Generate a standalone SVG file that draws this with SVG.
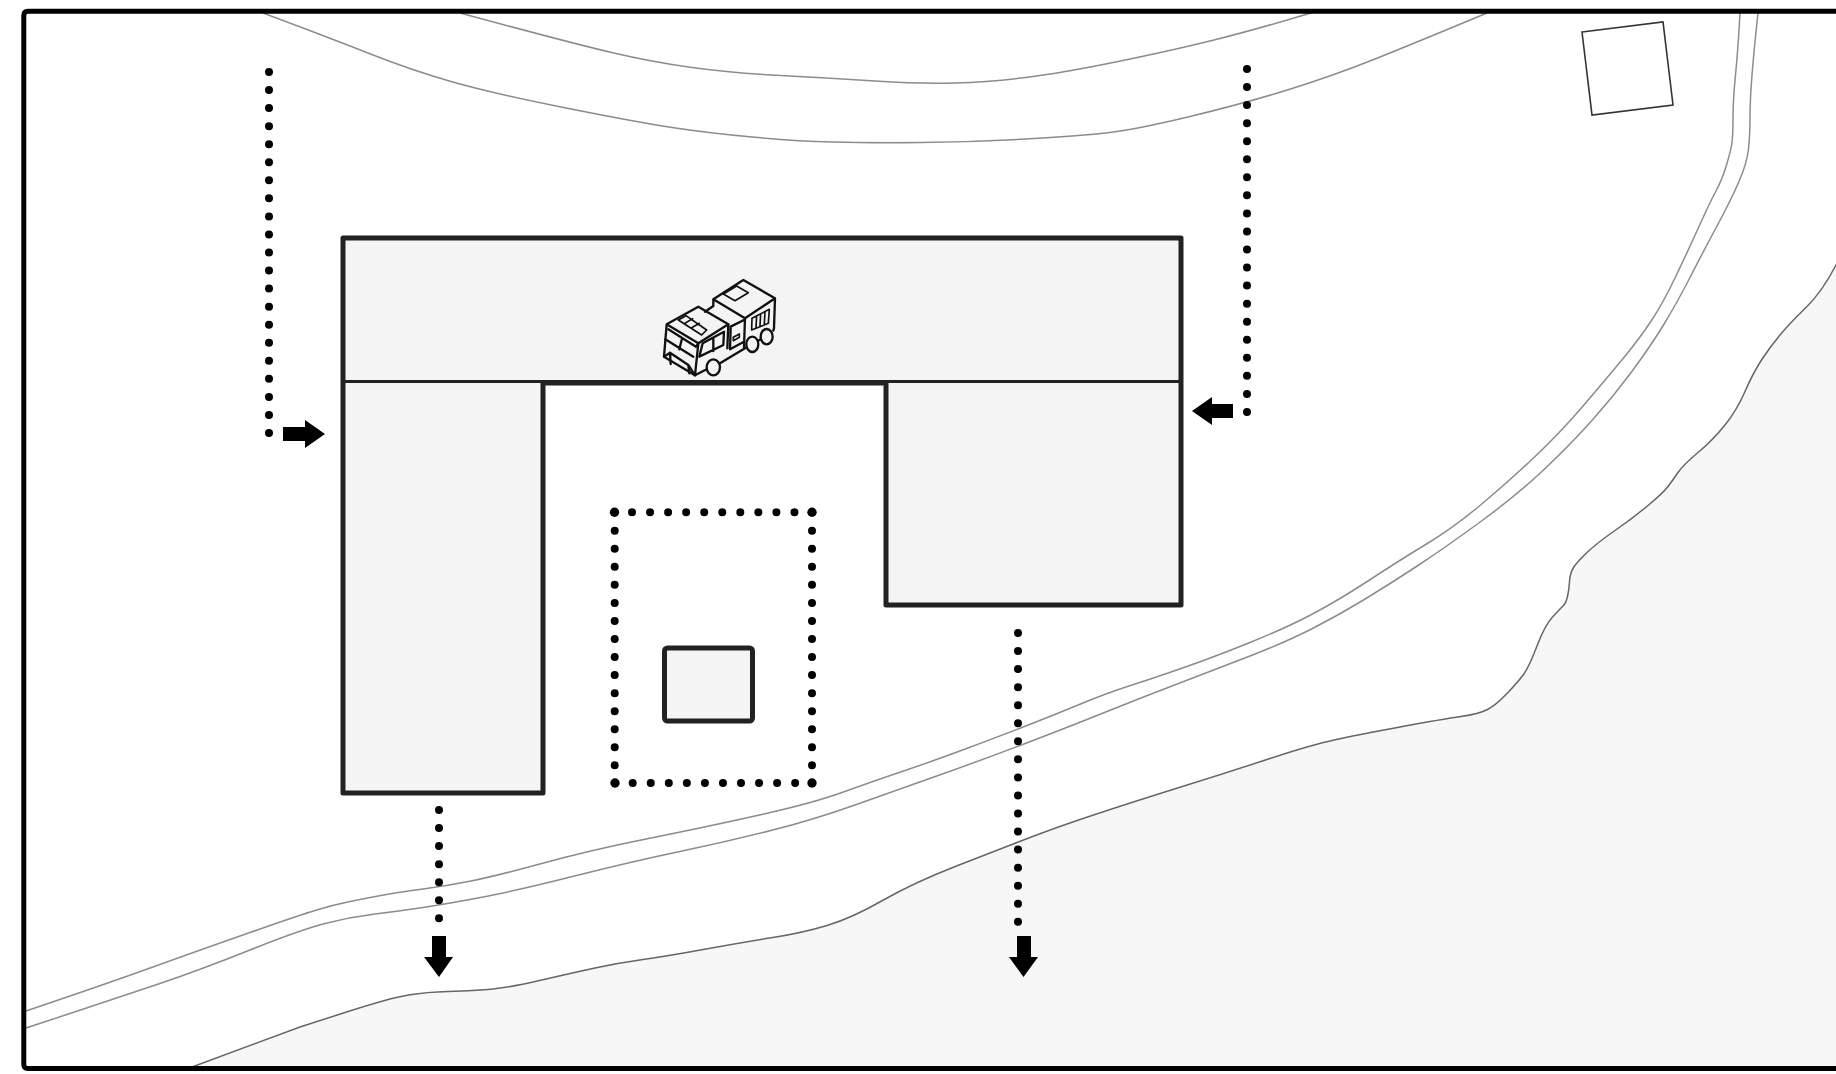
<svg xmlns="http://www.w3.org/2000/svg" width="1836" height="1074" viewBox="0 0 1836 1074">
<style>
.road{fill:none;stroke:#8c8c8c;stroke-width:1.5}
.ground{fill:#f7f7f7;stroke:#666;stroke-width:1.5}
.bld{fill:#f4f4f4;stroke:#222;stroke-width:5;stroke-linejoin:round}
.dots{fill:none;stroke:#000;stroke-width:8;stroke-linecap:round;stroke-dasharray:0 18.05}
.corner{fill:#000}
.arr{fill:#000}
.v{fill:none;stroke:#111;stroke-width:7;stroke-linejoin:round;stroke-linecap:round}
</style>
<rect width="1836" height="1074" fill="#fff"/>
<g id="terrain">
<path class="ground" d="M192 1067L300 1027Q345 1012.500 345 1012.500Q390 998 408.500 995Q427 992 448 991.500Q469 991 488 989.500Q507 988 539.500 980.500Q572 973 595 968Q618 963 643 959.500Q668 956 706 949Q744 942 773 937.500Q802 933 827 925.500Q852 918 882.500 900.500Q913 883 956.500 866Q1000 849 1030 837.500Q1060 826 1099.500 813Q1139 800 1184 786Q1229 772 1270 758.500Q1311 745 1334 740Q1357 735 1400 727Q1443 719 1461 716.500Q1479 714 1487.500 709.500Q1496 705 1507 693.500Q1518 682 1523.500 674.500Q1529 667 1537 646Q1545 625 1552.500 617Q1560 609 1563 606Q1566 603 1567.500 596.500Q1569 590 1569.500 581.500Q1570 573 1573.500 567.500Q1577 562 1587 552.500Q1597 543 1615 530.500Q1633 518 1648 505.500Q1663 493 1668 486.500Q1673 480 1678 472.500Q1683 465 1698 452.500Q1713 440 1725 425Q1737 410 1745 391.500Q1753 373 1761.500 360Q1770 347 1780 335Q1790 323 1806 307.500Q1822 292 1836 265L1840 258V1067Z"/>
<path class="road" d="M460 13Q571 43 611.500 52.500Q652 62 692 67.500Q732 73 780.500 75.500Q829 78 875 81Q921 84 955 83Q989 82 1025.500 77.500Q1062 73 1118 61.500Q1174 50 1214 40Q1254 30 1311 13"/>
<path class="road" d="M263 13Q330 38 370.500 54Q411 70 451 81.500Q491 93 563.500 107.500Q636 122 672 127.500Q708 133 752 137Q796 141 832.500 142Q869 143 921 142.500Q973 142 1025.500 139Q1078 136 1106 133Q1134 130 1190 116.500Q1246 103 1290.500 89Q1335 75 1375 59Q1415 43 1487 13"/>
<path class="road" d="M26 1011L71.500 995.500Q117 980 158.500 965Q200 950 250 932.500Q300 915 316.500 910Q333 905 350 901.500Q367 898 383.500 895Q400 892 423 889Q446 886 471 881Q496 876 543.500 863Q591 850 648.500 838.500Q706 827 759.500 815Q813 803 842 792.500Q871 782 903.500 771Q936 760 968 748Q1000 736 1027 725.500Q1054 715 1080.500 704Q1107 693 1130.500 685.500Q1154 678 1184 667.500Q1214 657 1250 642.500Q1286 628 1312.500 614Q1339 600 1369.500 580Q1400 560 1426.500 544Q1453 528 1480 505.500Q1507 483 1533.500 458Q1560 433 1583.500 405.500Q1607 378 1623.500 358Q1640 338 1651.500 320.500Q1663 303 1675 278Q1687 253 1699 226.500Q1711 200 1716.500 190Q1722 180 1726.500 165Q1731 150 1732 142.500Q1733 135 1733 117.500Q1733 100 1735.500 75Q1738 50 1740 13"/>
<path class="road" d="M26 1028L71.500 1013Q117 998 158.500 984Q200 970 250 950Q300 930 325 923.500Q350 917 375 914Q400 911 423 907.500Q446 904 480.500 897.500Q515 891 572.500 876.500Q630 862 677.500 852Q725 842 769 831Q813 820 855 805Q897 790 939.500 775Q982 760 1026.500 743Q1071 726 1107 711.500Q1143 697 1178.500 683.500Q1214 670 1250 656Q1286 642 1312.500 628.500Q1339 615 1366 598.500Q1393 582 1419.500 564.500Q1446 547 1481.500 521Q1517 495 1543.500 470Q1570 445 1591.500 421Q1613 397 1631.500 372Q1650 347 1663.500 325Q1677 303 1690 277.500Q1703 252 1717 226Q1731 200 1739 181.500Q1747 163 1748.500 149Q1750 135 1750 117.500Q1750 100 1752 75Q1754 50 1758 13"/>
<polygon points="1582,32 1663,22 1673,105 1592,115" fill="#fff" stroke="#333" stroke-width="1.6"/>
</g>
<g id="wing-left"><path class="bld" d="M343 381V793H543V381"/></g>
<g id="wing-right"><path class="bld" d="M886 381V605H1181V381"/></g>
<g id="main-block"><path class="bld" d="M343 381V238H1181V381"/><path d="M343 381.500H1181" stroke="#222" stroke-width="3" fill="none"/><path d="M543 383.500H886" stroke="#222" stroke-width="4" fill="none"/></g>
<g id="small-block"><rect class="bld" x="664.500" y="648" width="88" height="73" rx="3"/></g>
<g id="vehicle" transform="translate(640 260) scale(.3333)">
<path class="v" d="M80 193L175 140L265 193L175 250ZM80 193L72 290L165 346L175 250M165 346L200 328M240 310L320 262M355 242L362 238"/>
<path class="v" d="M195 155L220 138L220 118L310 60L405 115L315 175L220 118M315 175L312 262M405 115L402 205L400 212M265 193L262 265M272 200L312 180M272 205L270 268L312 245"/>
<path class="v" d="M85 208L168 260L175 250M76 238L160 290M72 290L90 278L145 315L165 346M90 278L92 312M145 315L148 340M125 240L118 268M178 290L188 250L252 215L250 255ZM220 235L220 273"/>
<path class="v" style="stroke-width:5" d="M115 180L138 167L200 210L185 225ZM135 190L158 176M155 203L178 190M280 232L298 222L298 232L280 242ZM250 102L290 78L325 98L285 122ZM336 175L388 148L385 190L335 210ZM350 168L348 203M362 162L360 197M375 155L373 192"/>
<g fill="#f4f4f4" stroke="#111" stroke-width="7"><ellipse cx="220" cy="322" rx="20" ry="24"/><ellipse cx="337" cy="253" rx="18" ry="23"/><ellipse cx="380" cy="230" rx="18" ry="23"/></g>
</g>
<g id="connectors">
<path class="dots" d="M269 72V433.500"/>
<path class="dots" d="M1247 69V412.500"/>
<path class="dots" d="M439 810V918.800"/>
<path class="dots" d="M1018 633V922.300"/>
<path class="dots" d="M632 512.300H795"/>
<path class="dots" d="M632.700 783H795.800"/>
<path class="dots" d="M614.700 530.700V766"/>
<path class="dots" d="M812 530.700V766"/>
<g class="corner"><circle cx="614.500" cy="512.300" r="4.700"/><circle cx="812" cy="512.300" r="4.700"/><circle cx="615" cy="783" r="4.700"/><circle cx="812" cy="783" r="4.700"/></g>
<path class="arr" d="M283 427H305V420L325 434L305 448V441H283Z"/>
<path class="arr" d="M1233 404H1212V397L1192 411L1212 425V418H1233Z"/>
<path class="arr" d="M432 936H446V957H453L439 977L424 957H432Z"/>
<path class="arr" d="M1017 936H1031V957H1038L1023.500 977L1009 957H1017Z"/>
</g>
<g id="frame"><path d="M1840 11.200H27.800Q23.800 11.200 23.800 15.200V1064.400Q23.800 1068.400 27.800 1068.400H1840" fill="none" stroke="#000" stroke-width="5"/></g>
</svg>
